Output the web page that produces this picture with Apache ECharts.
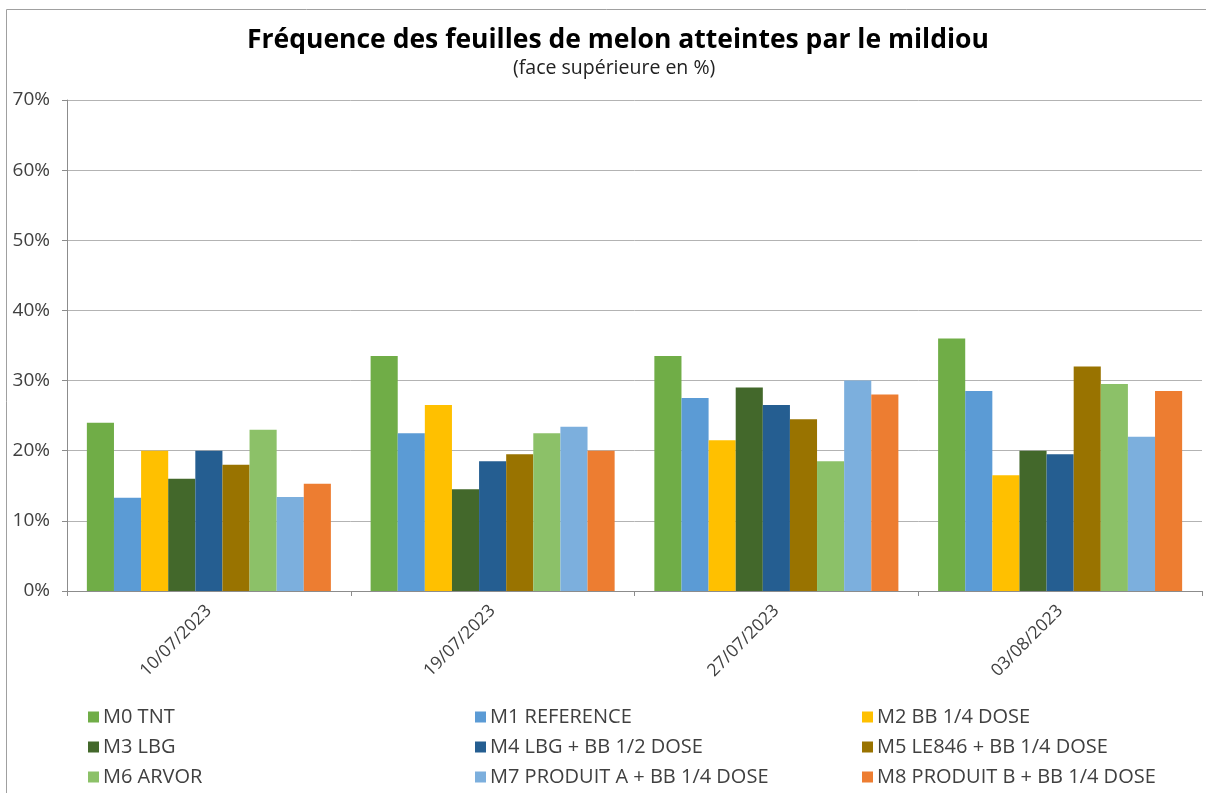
<!DOCTYPE html>
<html><head><meta charset="utf-8">
<script src="https://cdn.jsdelivr.net/npm/echarts@6/dist/echarts.min.js"></script>
<style>html,body{margin:0;padding:0;background:#fff}#c{width:1206px;height:793px}</style>
</head><body><div id="c"></div>
<script>
const categories = ['10/07/2023', '19/07/2023', '27/07/2023', '03/08/2023'];
const seriesNames = ['M0 TNT', 'M1 REFERENCE', 'M2 BB 1/4 DOSE', 'M3 LBG', 'M4 LBG + BB 1/2 DOSE', 'M5 LE846 + BB 1/4 DOSE', 'M6 ARVOR', 'M7 PRODUIT A + BB 1/4 DOSE', 'M8 PRODUIT B + BB 1/4 DOSE'];
const m0 = [24, 33.5, 33.5, 36];
const m1 = [13.3, 22.5, 27.5, 28.5];
const m2 = [20, 26.5, 21.5, 16.5];
const m3 = [16, 14.5, 29, 20];
const m4 = [20, 18.5, 26.5, 19.5];
const m5 = [18, 19.5, 24.5, 32];
const m6 = [23, 22.5, 18.5, 29.5];
const m7 = [13.4, 23.4, 30, 22];
const m8 = [15.3, 20, 28, 28.5];
const seriesValues = [m0, m1, m2, m3, m4, m5, m6, m7, m8];
const colors = ['#70AD47', '#5B9BD5', '#FFC000', '#43682B', '#255E91', '#997300', '#8CC168', '#7CAFDD', '#ED7D31'];
const yTicks = [0, 10, 20, 30, 40, 50, 60, 70];

const font = 'Open Sans';
const chart = echarts.init(document.getElementById('c'));
const legendCol = (items, left) => ({
  orient: 'vertical', left: left, top: 702, itemGap: 10,
  itemWidth: 11, itemHeight: 11, icon: 'rect',
  data: items,
  textStyle: { fontFamily: font, fontSize: 20, color: '#404040', padding: [0, 0, 0, -1] }
});
chart.setOption({
  color: colors,
  animation: false,
  title: [
    { text: 'Fréquence des feuilles de melon atteintes par le mildiou', left: 242, top: 22,
      textStyle: { fontFamily: font, fontSize: 26.5, fontWeight: 'bold', color: '#000' } },
    { text: '(face supérieure en %)', left: 508, top: 53,
      textStyle: { fontFamily: font, fontSize: 19.5, fontWeight: 'normal', color: '#222' } }
  ],
  legend: [
    legendCol([seriesNames[0], seriesNames[3], seriesNames[6]], 83),
    legendCol([seriesNames[1], seriesNames[4], seriesNames[7]], 470),
    legendCol([seriesNames[2], seriesNames[5], seriesNames[8]], 857)
  ],
  graphic: [{ type: 'rect', shape: { x: 6.5, y: 9.5, width: 1210, height: 790 },
    style: { fill: 'none', stroke: '#a0a0a0', lineWidth: 1 } }],
  grid: { left: 67, right: 4, top: 100, bottom: 202, containLabel: false },
  xAxis: {
    type: 'category', data: categories,
    axisLine: { lineStyle: { color: '#8c8c8c', width: 1 } },
    axisTick: { show: true, length: 5, lineStyle: { color: '#8c8c8c' } },
    axisLabel: { rotate: 45, fontFamily: font, fontSize: 17.5, color: '#404040', margin: 17 }
  },
  yAxis: {
    type: 'value', min: 0, max: 70, interval: 10,
    axisLine: { show: true, lineStyle: { color: '#8c8c8c' } },
    axisTick: { show: true, length: 5, inside: false, lineStyle: { color: '#8c8c8c' } },
    splitLine: { lineStyle: { color: '#b3b3b3', width: 1 } },
    axisLabel: { formatter: v => yTicks.includes(v) ? v + '%' : '', fontFamily: font, fontSize: 19, color: '#404040', margin: 17 }
  },
  series: seriesValues.map((vals, i) => ({
    name: seriesNames[i], type: 'bar', data: vals,
    barGap: '0%', barCategoryGap: '14%',
    itemStyle: { color: colors[i] }
  }))
});
</script></body></html>
